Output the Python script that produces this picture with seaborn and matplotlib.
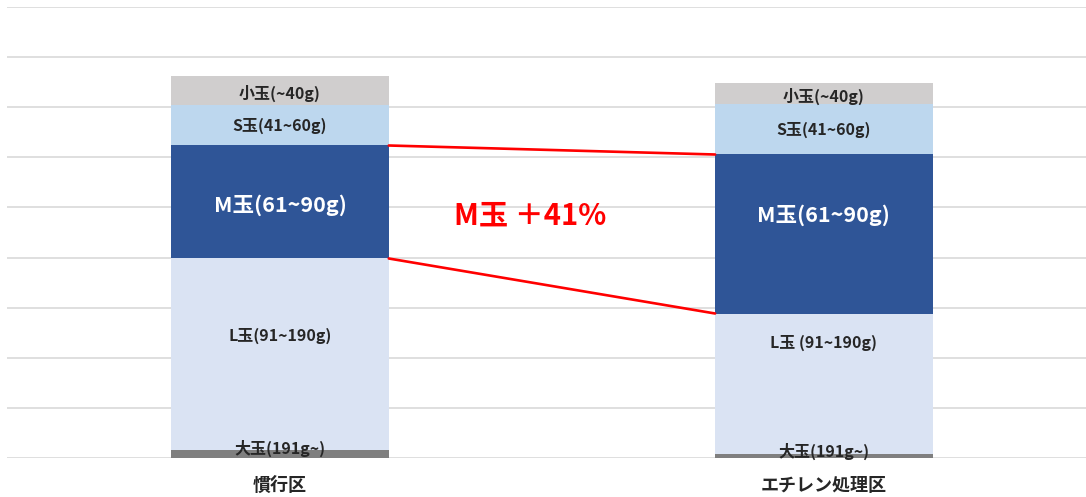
import matplotlib
matplotlib.use("Agg")
import matplotlib.pyplot as plt
import numpy as np
import pandas as pd
import seaborn as sns

# data (arbitrary units, axis 0-90)
plots = ["慣行区", "エチレン処理区"]
sizes = ["大玉", "L玉", "M玉", "S玉", "小玉"]
labels_kan = ["大玉(191g~)", "L玉(91~190g)", "M玉(61~90g)", "S玉(41~60g)", "小玉(~40g)"]
labels_eth = ["大玉(191g~)", "L玉 (91~190g)", "M玉(61~90g)", "S玉(41~60g)", "小玉(~40g)"]
kanko = [1.6, 38.2, 22.6, 8.0, 5.8]
ethylene = [0.8, 28.0, 31.8, 10.0, 4.2]
# where the data labels sit (same units)
label_y_kan = [1.8, 24.4, 50.4, 66.4, 72.8]
label_y_eth = [1.3, 23.0, 48.4, 65.6, 72.2]
colors = ["#7F7F7F", "#DAE3F3", "#2F5597", "#BDD7EE", "#D0CECE"]
text_colors = ["#262626", "#262626", "white", "#262626", "#262626"]
font_sizes = [11.5, 11.5, 15.5, 11.5, 11.5]

sns.set_style("white")
plt.rcParams["font.family"] = ["Noto Sans CJK JP", "DejaVu Sans"]

df = pd.DataFrame({"plot": np.repeat(plots, len(sizes)),
                   "size": sizes * len(plots),
                   "value": kanko + ethylene})
df["top"] = df.groupby("plot")["value"].cumsum()
df["bottom"] = df["top"] - df["value"]

fig = plt.figure(figsize=(10.86, 4.97), dpi=100)
ax = fig.add_axes([7 / 1086, 39.5 / 497, 1079 / 1086, 450 / 497])

# stacked bars: draw cumulative heights from the top segment down
for size, col in reversed(list(zip(sizes, colors))):
    sub = df[df["size"] == size]
    sns.barplot(data=sub, x="plot", y="top", order=plots, color=col,
                width=0.4, saturation=1, edgecolor="none", ax=ax, zorder=2)

# segment labels
for i, (labs, ys) in enumerate([(labels_kan, label_y_kan), (labels_eth, label_y_eth)]):
    for j, (lab, y) in enumerate(zip(labs, ys)):
        ax.text(i, y, lab, ha="center", va="center", fontsize=font_sizes[j],
                color=text_colors[j], fontweight="bold", zorder=4)

# red connector lines around the M segment
kan = df[df["plot"] == plots[0]].reset_index(drop=True)
eth = df[df["plot"] == plots[1]].reset_index(drop=True)
m = sizes.index("M玉")
for col in ["bottom", "top"]:
    ax.plot([0.2, 0.8], [kan.loc[m, col], eth.loc[m, col]], color="#FF0000",
            lw=1.9, zorder=3)

ax.text(0.46, 48.4, "M玉 ＋41%", ha="center", va="center", fontsize=21,
        color="#FF0000", fontweight="bold", zorder=4)

ax.set_ylim(0, 90)
ax.set_xlim(-0.502, 1.482)
ax.set_yticks(np.arange(0, 91, 10))
ax.set_yticklabels([])
ax.yaxis.grid(True, color="#D9D9D9", lw=1.2, zorder=0)
ax.set_axisbelow(True)
ax.tick_params(axis="both", length=0)
ax.tick_params(axis="x", pad=13)
ax.set_xticks([0, 1])
ax.set_xticklabels(plots, fontsize=13, fontweight="bold", color="#262626")
ax.set_xlabel("")
ax.set_ylabel("")
for s in ax.spines.values():
    s.set_visible(False)

fig.savefig("out.png", dpi=100)
